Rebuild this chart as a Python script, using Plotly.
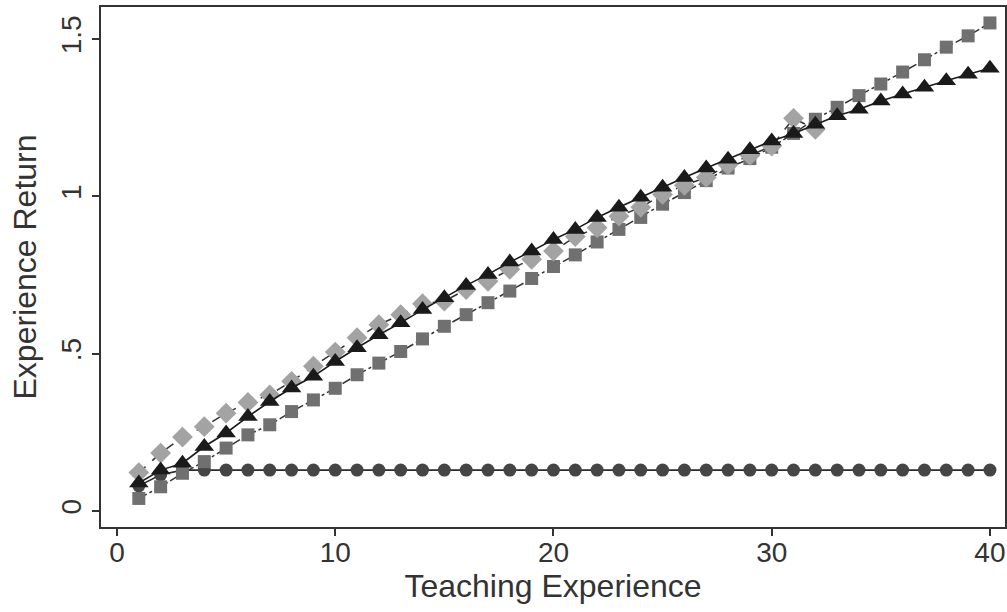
import plotly.graph_objects as go

years = list(range(1, 41))

circle_vals = [0.08, 0.115, 0.13] + [0.13] * 37

square_vals = [0.04, 0.077, 0.12, 0.157, 0.2, 0.242, 0.274, 0.316, 0.353, 0.39,
               0.433, 0.47, 0.507, 0.547, 0.587, 0.624, 0.662, 0.699, 0.739, 0.777,
               0.814, 0.855, 0.895, 0.933, 0.975, 1.012, 1.05, 1.09, 1.12, 1.156,
               1.2, 1.245, 1.283, 1.32, 1.357, 1.395, 1.434, 1.474, 1.51, 1.551]

diamond_years = list(range(1, 33))
diamond_vals = [0.122, 0.184, 0.235, 0.268, 0.311, 0.345, 0.369, 0.412, 0.46, 0.505,
                0.551, 0.592, 0.624, 0.659, 0.667, 0.704, 0.73, 0.768, 0.80, 0.826,
                0.872, 0.90, 0.937, 0.965, 1.006, 1.035, 1.06, 1.1, 1.13, 1.16,
                1.248, 1.213]

triangle_vals = [0.089, 0.13, 0.152, 0.205, 0.248, 0.30, 0.348, 0.391, 0.428, 0.475,
                 0.519, 0.56, 0.598, 0.64, 0.678, 0.717, 0.752, 0.791, 0.826, 0.863,
                 0.895, 0.933, 0.965, 0.997, 1.029, 1.06, 1.09, 1.118, 1.148, 1.176,
                 1.2, 1.229, 1.256, 1.277, 1.303, 1.325, 1.347, 1.367, 1.388, 1.407]

x_ticks = [0, 10, 20, 30, 40]
y_ticks = [0, 0.5, 1, 1.5]
y_tick_text = ["0", ".5", "1", "1.5"]

fig = go.Figure()

fig.add_trace(go.Scatter(
    x=years, y=circle_vals, mode="lines+markers",
    line=dict(color="#2a2a2a", width=1.6),
    marker=dict(symbol="circle", size=13, color="#454545"),
    showlegend=False))

fig.add_trace(go.Scatter(
    x=years, y=square_vals, mode="lines+markers",
    line=dict(color="#333333", width=1.5, dash="dashdot"),
    marker=dict(symbol="square", size=13, color="#707070"),
    showlegend=False))

fig.add_trace(go.Scatter(
    x=diamond_years, y=diamond_vals, mode="lines+markers",
    line=dict(color="#333333", width=1.5, dash="dash"),
    marker=dict(symbol="diamond", size=16, color="#a3a3a3"),
    showlegend=False))

fig.add_trace(go.Scatter(
    x=years, y=triangle_vals, mode="lines+markers",
    line=dict(color="#1a1a1a", width=1.6),
    marker=dict(symbol="triangle-up", size=17, color="#1a1a1a"),
    showlegend=False))

font_family = "Liberation Sans, Arial, sans-serif"

fig.update_layout(
    width=1007, height=612,
    margin=dict(l=101, r=2, t=7, b=85),
    paper_bgcolor="white", plot_bgcolor="white",
    font=dict(family=font_family, color="#333333"),
)

fig.update_xaxes(
    range=[-0.733, 40.69], automargin=False,
    tickvals=x_ticks, ticks="outside", ticklen=7, tickwidth=1.5, tickcolor="#333333",
    tickfont=dict(size=28, color="#333333"), ticklabelstandoff=-8,
    showgrid=False, zeroline=False,
    showline=True, linewidth=2, linecolor="#333333", mirror=True,
    title=dict(text="Teaching Experience", font=dict(size=32, color="#333333"), standoff=8),
)

fig.update_yaxes(
    range=[-0.0508, 1.6017], automargin=False,
    tickvals=y_ticks, ticktext=y_tick_text, tickangle=-90,
    ticks="outside", ticklen=7, tickwidth=1.5, tickcolor="#333333",
    tickfont=dict(size=28, color="#333333"),
    showgrid=False, zeroline=False,
    showline=True, linewidth=2, linecolor="#333333", mirror=True,
    title=dict(text="Experience Return", font=dict(size=32, color="#333333"), standoff=10),
)

fig.write_html("out.html", config={"displayModeBar": False},
               post_script="document.body.style.margin='0';")
